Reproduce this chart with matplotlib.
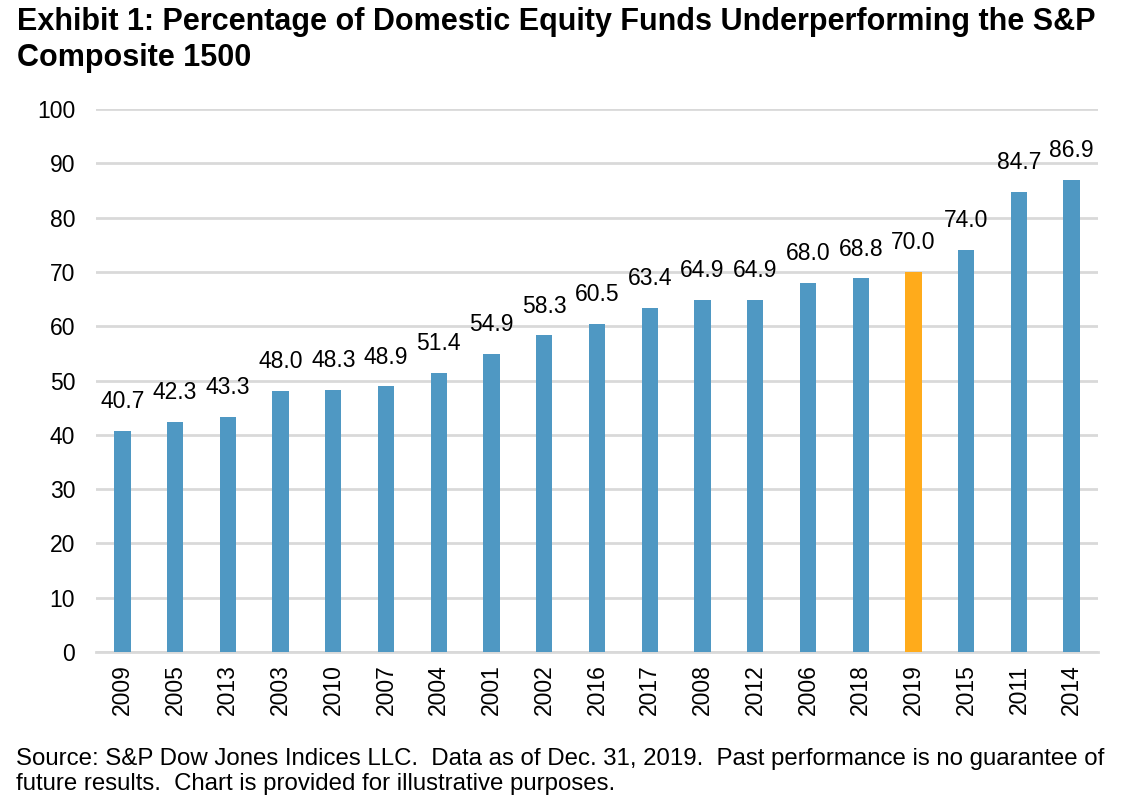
import matplotlib.pyplot as plt

plt.rcParams['font.family'] = ['Liberation Sans', 'DejaVu Sans']

# data
years = ['2009', '2005', '2013', '2003', '2010', '2007', '2004', '2001', '2002', '2016',
         '2017', '2008', '2012', '2006', '2018', '2019', '2015', '2011', '2014']
pct = [40.7, 42.3, 43.3, 48.0, 48.3, 48.9, 51.4, 54.9, 58.3, 60.5,
       63.4, 64.9, 64.9, 68.0, 68.8, 70.0, 74.0, 84.7, 86.9]
highlight = '2019'

blue = '#4F98C3'
orange = '#FFAB1B'
colors = [orange if y == highlight else blue for y in years]

fig = plt.figure(figsize=(11.24, 8.05), dpi=100)
ax = fig.add_axes([0.0854, 0.19, 0.8915, 0.6746])

x = range(len(years))
bars = ax.bar(x, pct, width=0.31, color=colors, zorder=3)
for xi, v in zip(x, pct):
    ax.text(xi, v + 3.3, f'{v:.1f}', ha='center', va='bottom', fontsize=16.5, color='black')

ax.set_xlim(-0.5, len(years) - 0.5)
ax.set_ylim(0, 100)
ax.set_yticks(range(0, 101, 10))
ax.set_xticks(list(x))
ax.set_xticklabels(years, rotation=90, fontsize=16.5)
ax.tick_params(axis='y', labelsize=16.5, length=0, pad=15)
ax.tick_params(axis='x', length=0, pad=9)
ax.grid(axis='y', color='#D9D9D9', linewidth=2, zorder=0)
for s in ['top', 'right', 'left']:
    ax.spines[s].set_visible(False)
ax.spines['bottom'].set_color('#D9D9D9')
ax.spines['bottom'].set_linewidth(2)

fig.text(0.015, 0.991, 'Exhibit 1: Percentage of Domestic Equity Funds Underperforming the S&P\nComposite 1500',
         ha='left', va='top', fontsize=22, fontweight='bold', linespacing=1.25)
fig.text(0.014, 0.012, 'Source: S&P Dow Jones Indices LLC.  Data as of Dec. 31, 2019.  Past performance is no guarantee of\n'
         'future results.  Chart is provided for illustrative purposes.',
         ha='left', va='bottom', fontsize=17.3, linespacing=1.22)

fig.savefig('out.png', dpi=100)
